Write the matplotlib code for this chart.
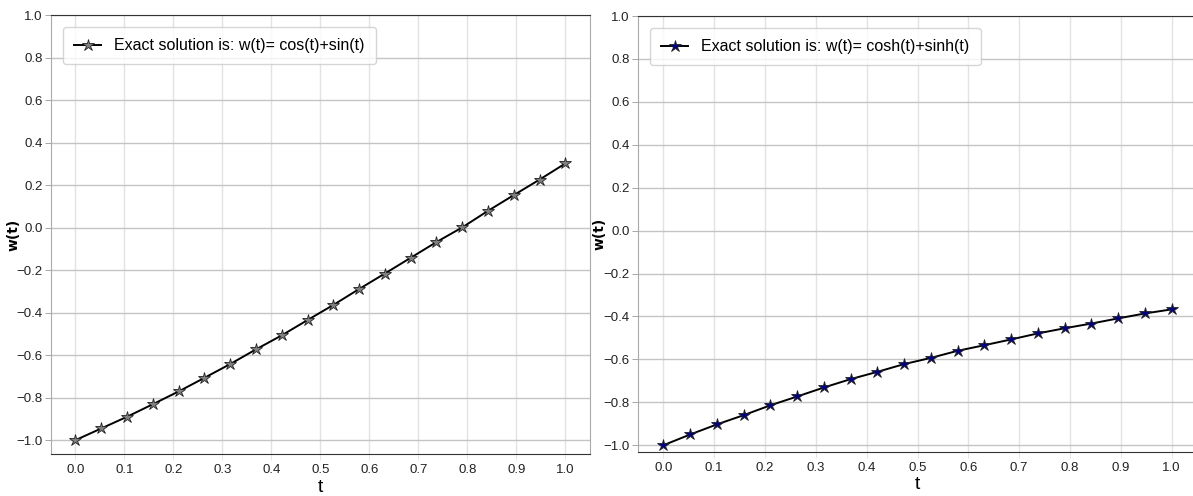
import numpy as np
import matplotlib
matplotlib.use("Agg")
import matplotlib.pyplot as plt

plt.rcParams['font.family'] = ['Liberation Sans', 'DejaVu Sans']

# data (20 points on [0, 1])
t = np.linspace(0, 1, 20)
w_left = [-1.0, -0.945, -0.890, -0.831, -0.771, -0.707, -0.642, -0.573, -0.507, -0.435,
          -0.364, -0.289, -0.216, -0.142, -0.068, 0.001, 0.079, 0.153, 0.226, 0.302]
w_right = [-1.0, -0.950, -0.903, -0.860, -0.814, -0.773, -0.731, -0.692, -0.658, -0.622,
           -0.593, -0.560, -0.534, -0.507, -0.479, -0.455, -0.433, -0.409, -0.386, -0.367]
labels = ['Exact solution is: w(t)= cos(t)+sin(t)',
          'Exact solution is: w(t)= cosh(t)+sinh(t)']
marker_colors = ['grey', 'navy']

fig = plt.figure(figsize=(11.93, 4.96), dpi=100)
ax1 = fig.add_axes([0.0427, 0.0847, 0.4518, 0.885])
ax2 = fig.add_axes([0.5348, 0.0887, 0.4686, 0.879])

# x position of the y label in axes units for each panel
ylab_x = [-0.057, -0.056]

for ax, w, lab, mc, yx in zip([ax1, ax2], [w_left, w_right], labels, marker_colors, ylab_x):
    ax.plot(t, w, color='black', lw=1.4, marker='*', ms=9,
            markerfacecolor=mc, markeredgecolor='#222222', markeredgewidth=0.6, label=lab)
    ax.set_ylim(top=1.0)
    ax.set_xticks(np.arange(0, 1.01, 0.1))
    ax.set_yticks(np.arange(-1.0, 1.01, 0.2))
    ax.xaxis.grid(True, color='#e2e2e2', lw=1.0)
    ax.yaxis.grid(True, color='#c4c4c4', lw=1.0)
    ax.set_axisbelow(True)
    ax.tick_params(axis='both', labelsize=9.5, length=4, width=0.6, pad=2)
    ax.tick_params(axis='x', colors='#e0e0e0', labelcolor='#222222', pad=3)
    ax.tick_params(axis='y', colors='#999999', labelcolor='#222222')
    for s in ['top', 'bottom']:
        ax.spines[s].set_color('#333333')
    for s in ['left', 'right']:
        ax.spines[s].set_color('#aaaaaa')
    ax.set_xlabel('t', fontsize=14)
    ax.xaxis.set_label_coords(0.5, -0.056)
    ax.set_ylabel('w(t)', fontsize=10, fontweight='bold', family='DejaVu Sans')
    ax.yaxis.set_label_coords(yx, 0.5)
    ax.legend(loc='upper left', fontsize=11.5, handlelength=1.7, borderpad=0.7,
              borderaxespad=0.75)

fig.savefig('out.png', dpi=100)
